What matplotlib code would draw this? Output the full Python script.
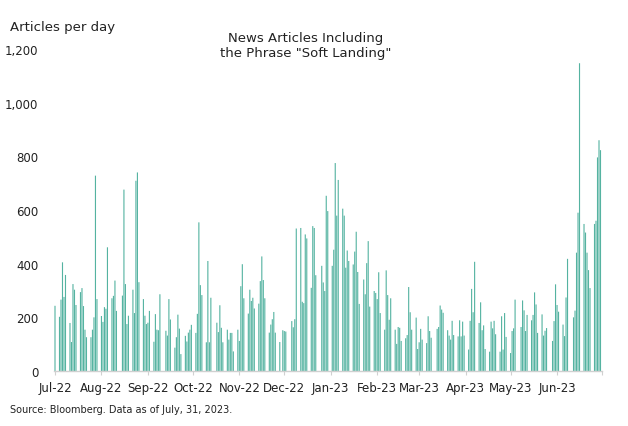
import numpy as np
import pandas as pd
import matplotlib
matplotlib.use('Agg')
import matplotlib.pyplot as plt
import matplotlib.dates as mdates
from matplotlib.ticker import FuncFormatter

# ── Data: articles per business day (0 = no bar) ─────────────────────────────
jul22 = [243, 202, 266, 405, 276, 358, 179, 108, 324, 303, 246, 294, 309, 242, 154, 126,
         126, 154, 200, 728, 268]
aug22 = [205, 183, 238, 232, 461, 271, 280, 337, 224, 0, 281, 676, 324, 175, 206,
         303, 216, 709, 740, 331, 268, 206, 175]
sep22 = [180, 224, 109, 212, 154, 152, 286, 0, 150, 132, 268, 192, 87, 126, 210, 158, 63,
         131, 110, 143, 154, 172]
oct22 = [142, 213, 554, 320, 283, 107, 410, 107, 273, 0, 180, 145, 245, 161, 107,
         154, 117, 142, 142, 73, 154]
nov22 = [112, 316, 398, 271, 214, 303, 261, 273, 233, 251, 335, 427, 339, 271,
         143, 173, 193, 220, 143, 108, 0, 152]
dec22 = [149, 147, 0, 186, 163, 193, 531, 533, 258, 253, 509, 494, 310, 540, 533, 357, 0,
         392, 330, 298, 653, 596]
jan23 = [392, 452, 775, 579, 712, 605, 579, 385, 449, 410, 397, 445, 519, 369, 250,
         341, 286, 402, 484, 240, 298, 291]
feb23 = [268, 368, 216, 154, 375, 283, 191, 271, 154, 101, 164, 161, 112,
         122, 134, 313, 219, 154, 199, 82]
mar23 = [107, 157, 117, 104, 204, 149, 124, 0, 157, 164, 244, 229, 217,
         152, 132, 117, 187, 134, 129, 189, 129, 184, 132]
apr23 = [80, 187, 306, 219, 407, 179, 256, 152, 170, 82, 72, 184, 159, 187, 137,
         72, 204, 80, 216, 127]
may23 = [67, 149, 159, 266, 0, 164, 263, 226, 149, 209, 189, 209, 293, 248, 142,
         211, 132, 150, 160, 0, 112, 186, 323]
jun23 = [246, 221, 173, 130, 274, 418, 0, 200, 225, 441, 590, 1147, 548, 516, 441, 376, 309,
         548, 560, 796, 860, 823]

months = ['2022-07', '2022-08', '2022-09', '2022-10', '2022-11', '2022-12',
          '2023-01', '2023-02', '2023-03', '2023-04', '2023-05', '2023-06']
monthly = [jul22, aug22, sep22, oct22, nov22, dec22, jan23, feb23, mar23, apr23, may23, jun23]

dates, values = [], []
for m, vals in zip(months, monthly):
    start = pd.Timestamp(m + '-01')
    bdays = pd.bdate_range(start, start + pd.offsets.MonthEnd(0))
    assert len(bdays) == len(vals), (m, len(bdays), len(vals))
    dates.extend(bdays)
    values.extend(vals)
dates = pd.DatetimeIndex(dates)
values = np.array(values, dtype=float)

tick_dates = pd.date_range('2022-07-01', '2023-07-01', freq='MS')
tick_labels = [d.strftime('%b-%y') for d in tick_dates[:-1]] + ['']

# ── Figure ───────────────────────────────────────────────────────────────────
W, H = 628, 427
fig = plt.figure(figsize=(W / 100, H / 100), dpi=100)
ax = fig.add_axes([53.5 / W, 1 - 372 / H, (602 - 53.5) / W, (372 - 50) / H])

# snap off so sub-pixel bars antialias instead of dropping out
ax.bar(dates, values, width=0.75, color='#55b3a1', linewidth=0, snap=False)

ax.set_xlim(mdates.date2num(pd.Timestamp('2022-06-30')),
            mdates.date2num(pd.Timestamp('2023-07-01')))
ax.set_ylim(0, 1200)
ax.set_yticks(np.arange(0, 1201, 200))
ax.yaxis.set_major_formatter(FuncFormatter(lambda v, p: f'{int(v):,}'))
ax.set_xticks(mdates.date2num(tick_dates))
ax.set_xticklabels(tick_labels)

for s in ['top', 'right', 'left']:
    ax.spines[s].set_visible(False)
ax.spines['bottom'].set_color('#d0d0d0')
ax.spines['bottom'].set_linewidth(1.0)
ax.tick_params(axis='y', length=0, pad=11, labelsize=8.5, colors='#222222')
ax.tick_params(axis='x', length=3, color='#d0d0d0', pad=4, labelsize=8.5, labelcolor='#222222')

fig.text(10 / W, 1 - 28 / H, 'Articles per day', ha='left', va='center', fontsize=9.5,
         color='#222222')
fig.text(306 / W, 1 - 46 / H, 'News Articles Including\nthe Phrase "Soft Landing"',
         ha='center', va='center', fontsize=9.5, color='#222222', linespacing=1.2)
fig.text(10 / W, 1 - 410 / H, 'Source: Bloomberg. Data as of July, 31, 2023.',
         ha='left', va='center', fontsize=7, color='#222222')

fig.savefig('out.png', dpi=100)
